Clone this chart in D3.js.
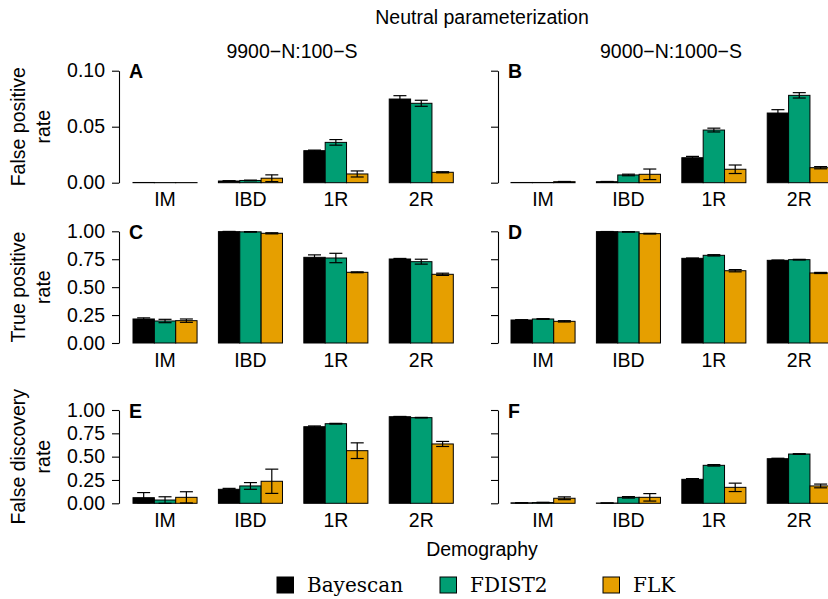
<!DOCTYPE html>
<html>
<head>
<meta charset="utf-8">
<script src="https://cdn.jsdelivr.net/npm/d3@7"></script>
<style>
  body { margin: 0; background: #fff; }
  svg { display: block; }
  text { font-family: "Liberation Sans", Arial, sans-serif; }
</style>
</head>
<body>
<div id="chart"></div>
<script>
// neutral parameterization bar panels

var demographies = ["IM", "IBD", "1R", "2R"];
var methods = ["Bayescan", "FDIST2", "FLK"];
var methodColors = ["#000000", "#009E73", "#E69F00"];
var scenarios = ["9900\u2212N:100\u2212S", "9000\u2212N:1000\u2212S"];
var rowLabels = [["False positive", "rate"], ["True positive", "rate"], ["False discovery", "rate"]];
var panelLetters = ["A", "B", "C", "D", "E", "F"];

var fprTicks = [0, 0.05, 0.10];
var rateTicks = [0, 0.25, 0.5, 0.75, 1];

// values per demography: [Bayescan, FDIST2, FLK]
var fprA = [[0.0002, 0.0001, 0.0001], [0.0015, 0.002, 0.004], [0.0286, 0.036, 0.0078], [0.0747, 0.0709, 0.0093]];
var fprAErr = [[0, 0, 0], [0.0003, 0.0003, 0.003], [0.0005, 0.0025, 0.0027], [0.003, 0.0027, 0.0005]];
var fprB = [[0.0002, 0.0002, 0.0009], [0.0009, 0.0069, 0.0075], [0.0223, 0.047, 0.012], [0.0622, 0.078, 0.0134]];
var fprBErr = [[0, 0, 0.0002], [0.0002, 0.0007, 0.0047], [0.0012, 0.0017, 0.0038], [0.003, 0.0024, 0.001]];

var tprC = [[0.215, 0.197, 0.2], [0.997, 0.995, 0.982], [0.767, 0.761, 0.633], [0.752, 0.728, 0.615]];
var tprCErr = [[0.01, 0.015, 0.015], [0.002, 0.002, 0.005], [0.022, 0.042, 0.004], [0.005, 0.022, 0.01]];
var tprD = [[0.206, 0.215, 0.194], [0.997, 0.995, 0.979], [0.758, 0.785, 0.647], [0.74, 0.746, 0.627]];
var tprDErr = [[0.003, 0.003, 0.006], [0.001, 0.002, 0.003], [0.003, 0.006, 0.01], [0.003, 0.003, 0.005]];

var fdrE = [[0.06, 0.035, 0.064], [0.15, 0.186, 0.236], [0.821, 0.853, 0.564], [0.928, 0.918, 0.636]];
var fdrEErr = [[0.055, 0.035, 0.06], [0.01, 0.036, 0.13], [0.008, 0.004, 0.084], [0.003, 0.003, 0.027]];
var fdrF = [[0.005, 0.008, 0.054], [0.003, 0.064, 0.064], [0.257, 0.407, 0.171], [0.478, 0.528, 0.186]];
var fdrFErr = [[0.002, 0.003, 0.015], [0.001, 0.008, 0.04], [0.008, 0.008, 0.045], [0.005, 0.004, 0.02]];

var panelValues = [fprA, fprB, tprC, tprD, fdrE, fdrF];
var panelErrors = [fprAErr, fprBErr, tprCErr, tprDErr, fdrEErr, fdrFErr];

var svgWidth = 828;
var svgHeight = 599;
var fontSize = 19.5;

// layout of rows and columns
var rows = [
    {top: 70.7, bottom: 182.7, max: 0.10, ticks: fprTicks},
    {top: 231.3, bottom: 343, max: 1, ticks: rateTicks},
    {top: 410, bottom: 503.3, max: 1, ticks: rateTicks}
];
var cols = [
    {axisX: 119, barStart: 133, barEnd: 453.3},
    {axisX: 498, barStart: 511, barEnd: 831.3}
];

var svg = d3.select("#chart").append("svg")
    .attr("width", svgWidth)
    .attr("height", svgHeight);

svg.append("text")
    .attr("x", 482)
    .attr("y", 24)
    .attr("text-anchor", "middle")
    .style("font-size", fontSize + "px")
    .text("Neutral parameterization");

var drawPanel = function(r, c){
    var row = rows[r];
    var col = cols[c];
    var idx = r * 2 + c;
    var values = panelValues[idx];
    var errors = panelErrors[idx];

    var yScale = d3.scaleLinear()
	.domain([0, row.max])
	.range([row.bottom, row.top]);

    var xGroup = d3.scaleBand()
	.domain(demographies)
	.range([col.barStart, col.barEnd])
	.paddingInner(0.25)
	.paddingOuter(0);

    var xMethod = d3.scaleBand()
	.domain(methods)
	.range([0, xGroup.bandwidth()]);

    var yAxis = d3.axisLeft(yScale)
	.tickValues(row.ticks)
	.tickSizeInner(7)
	.tickSizeOuter(0)
	.tickPadding(7)
	.tickFormat(c == 0 ? d3.format(".2f") : function(){ return ""; });

    var axisG = svg.append("g")
	.attr("transform", "translate(" + col.axisX + ",0)")
	.call(yAxis);
    axisG.selectAll("text")
	.style("font-family", "'Liberation Sans', Arial, sans-serif")
	.style("font-size", fontSize + "px")
	.attr("fill", "#000");
    axisG.selectAll("line, path").attr("stroke", "#000").attr("stroke-width", 1.1);

    // bars
    for(var i = 0; i < demographies.length; i++){
	var g = svg.append("g")
	    .attr("transform", "translate(" + xGroup(demographies[i]) + ",0)");

	for(var j = 0; j < methods.length; j++){
	    var v = values[i][j];
	    var e = errors[i][j];
	    var bx = xMethod(methods[j]);
	    var bw = xMethod.bandwidth();

	    g.append("rect")
		.attr("x", bx)
		.attr("y", yScale(v))
		.attr("width", bw)
		.attr("height", yScale(0) - yScale(v))
		.attr("fill", methodColors[j])
		.attr("stroke", "#000")
		.attr("stroke-width", 1);

	    if(e > 0){
		var cx = bx + bw / 2;
		var capHalf = 6.5;
		var lo = Math.max(0, v - e);
		var hi = v + e;
		g.append("line")
		    .attr("x1", cx).attr("x2", cx)
		    .attr("y1", yScale(lo)).attr("y2", yScale(hi))
		    .attr("stroke", "#000").attr("stroke-width", 1.2);
		g.append("line")
		    .attr("x1", cx - capHalf).attr("x2", cx + capHalf)
		    .attr("y1", yScale(hi)).attr("y2", yScale(hi))
		    .attr("stroke", "#000").attr("stroke-width", 1.2);
		g.append("line")
		    .attr("x1", cx - capHalf).attr("x2", cx + capHalf)
		    .attr("y1", yScale(lo)).attr("y2", yScale(lo))
		    .attr("stroke", "#000").attr("stroke-width", 1.2);
	    }
	}

	svg.append("text")
	    .attr("x", xGroup(demographies[i]) + xGroup.bandwidth() / 2)
	    .attr("y", row.bottom + 23.5)
	    .attr("text-anchor", "middle")
	    .style("font-size", fontSize + "px")
	    .text(demographies[i]);
    }

    svg.append("text")
	.attr("x", col.axisX + 10)
	.attr("y", row.top + 7.5)
	.style("font-size", fontSize + "px")
	.style("font-weight", "bold")
	.text(panelLetters[idx]);
};

for(var r = 0; r < rows.length; r++){
    for(var c = 0; c < cols.length; c++){
	drawPanel(r, c);
    }

    // row label
    var mid = (rows[r].top + rows[r].bottom) / 2;
    var lab = svg.append("text")
	.attr("transform", "translate(25," + mid + ") rotate(-90)")
	.attr("text-anchor", "middle")
	.style("font-size", fontSize + "px");
    lab.append("tspan").attr("x", 0).attr("y", 0).text(rowLabels[r][0]);
    lab.append("tspan").attr("x", 0).attr("y", 25).text(rowLabels[r][1]);
}

// column titles
for(var c = 0; c < scenarios.length; c++){
    svg.append("text")
	.attr("x", c == 0 ? 292 : 671)
	.attr("y", 58)
	.attr("text-anchor", "middle")
	.style("font-size", fontSize + "px")
	.text(scenarios[c]);
}

svg.append("text")
    .attr("x", 482)
    .attr("y", 556)
    .attr("text-anchor", "middle")
    .style("font-size", fontSize + "px")
    .text("Demography");

// legend
var legendX = [277, 440, 603];
for(var k = 0; k < methods.length; k++){
    svg.append("rect")
	.attr("x", legendX[k])
	.attr("y", 577)
	.attr("width", 16.5)
	.attr("height", 16)
	.attr("fill", methodColors[k])
	.attr("stroke", "#000")
	.attr("stroke-width", 1);
    svg.append("text")
	.attr("x", legendX[k] + 30)
	.attr("y", 592)
	.style("font-family", "'DejaVu Serif', serif")
	.style("font-size", "20px")
	.text(methods[k]);
}
</script>
</body>
</html>
